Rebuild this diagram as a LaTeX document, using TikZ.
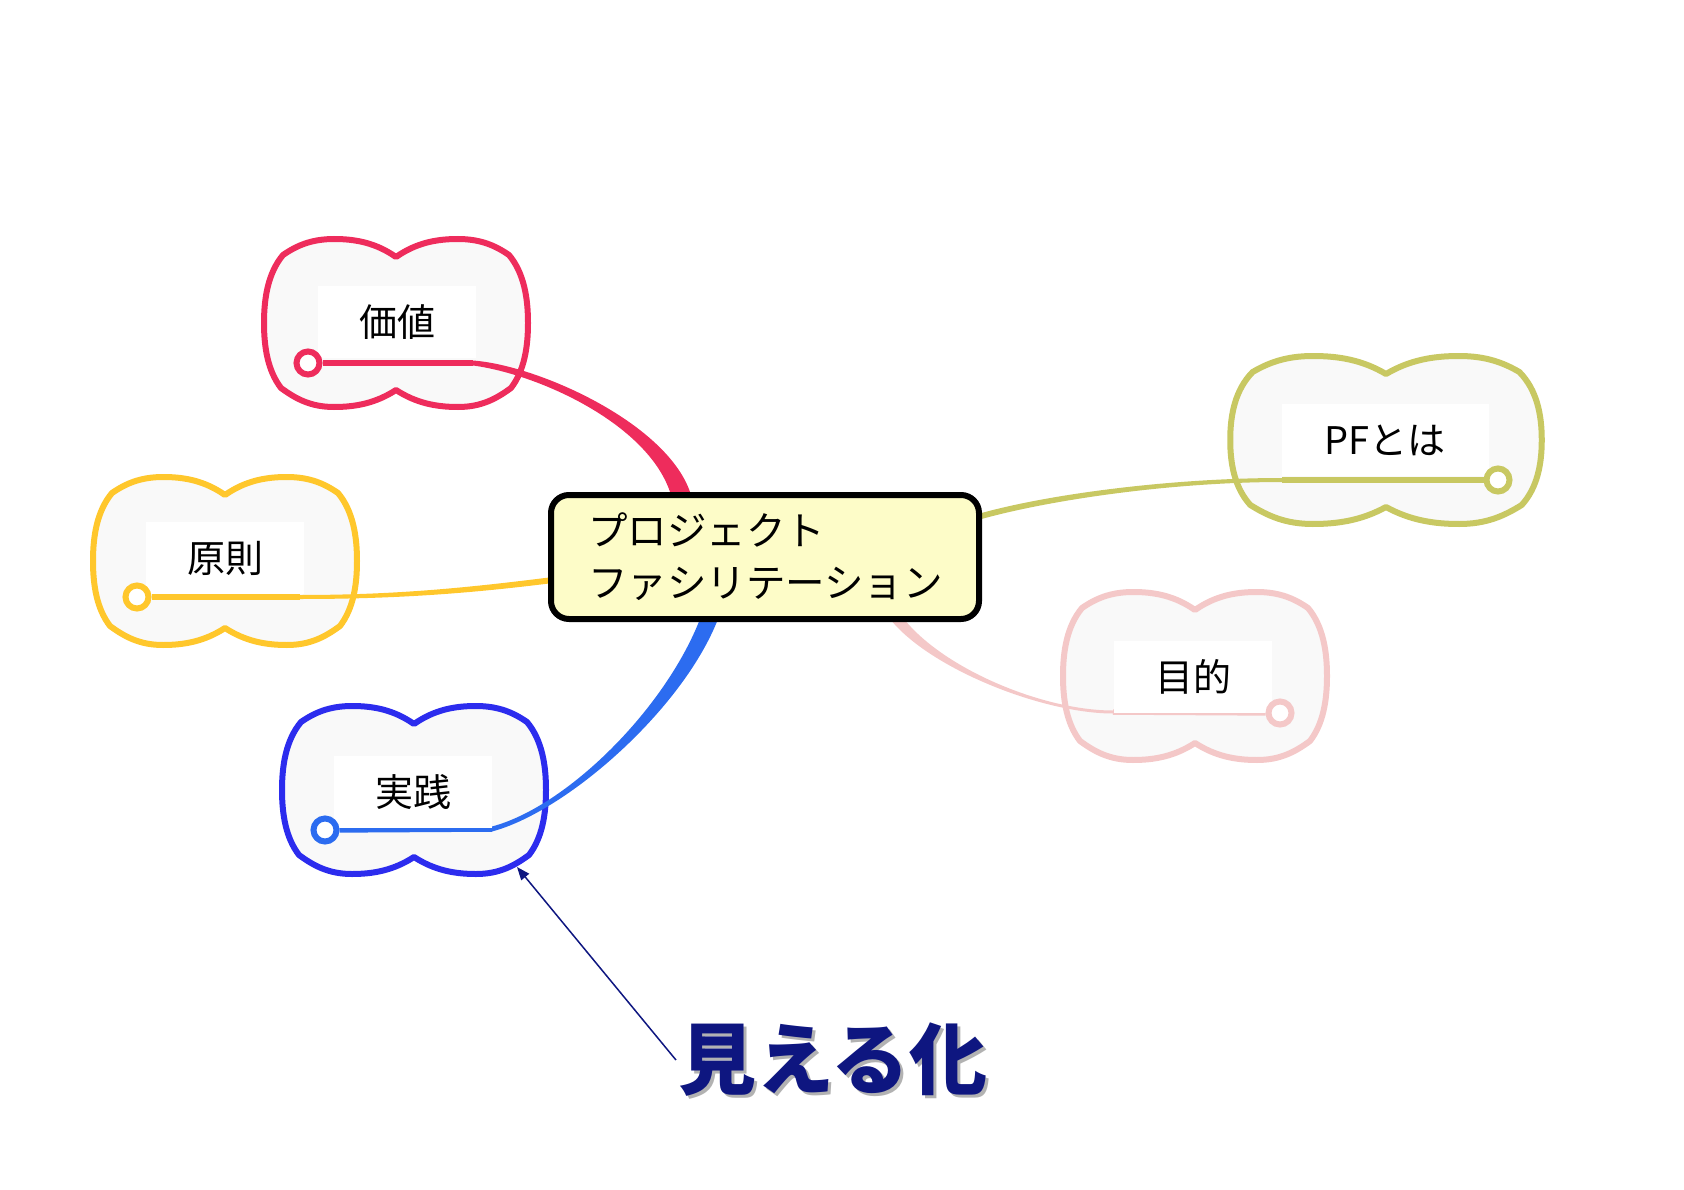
\documentclass[tikz,border=0pt]{standalone}
\usepackage{fontspec}
\newfontfamily\jpfont{Noto Sans CJK JP}
\usetikzlibrary{arrows.meta, positioning, calc, backgrounds}

\definecolor{kachi}{RGB}{238,44,92}
\definecolor{gensoku}{RGB}{255,199,44}
\definecolor{jissen}{RGB}{44,44,238}
\definecolor{jissenline}{RGB}{44,108,240}
\definecolor{pftoha}{RGB}{200,200,98}
\definecolor{mokuteki}{RGB}{244,200,200}
\definecolor{hubfill}{RGB}{253,252,200}
\definecolor{mierublue}{RGB}{14,22,128}

\tikzset{
  cloud/.pic={
    \path[pic actions, line width=6pt, fill=gray!5, line join=round]
      (0,-66) .. controls (-20,-80) and (-40,-84) .. (-62,-84)
      .. controls (-85,-84) and (-100,-77) .. (-113,-68)
      .. controls (-128,-50) and (-132,-25) .. (-132,0)
      .. controls (-132,25) and (-128,48) .. (-115,65)
      .. controls (-100,76) and (-85,84) .. (-62,84)
      .. controls (-40,84) and (-20,80) .. (0,67)
      .. controls (20,80) and (40,84) .. (62,84)
      .. controls (85,84) and (100,76) .. (115,65)
      .. controls (128,48) and (132,25) .. (132,0)
      .. controls (132,-25) and (128,-50) .. (113,-68)
      .. controls (100,-77) and (85,-84) .. (62,-84)
      .. controls (40,-84) and (20,-80) .. (0,-66) -- cycle;
    \coordinate (-tip) at (103,77);
  }
}

\begin{document}
\begin{tikzpicture}[
    x=1pt, y=-1pt,
    hub/.style={draw=black, fill=hubfill, line width=6pt, rounded corners=18pt,
      minimum width=428pt, minimum height=124pt, text width=354pt, align=left,
      font=\jpfont\fontsize{39.5}{52}\selectfont},
    tagbox/.style={fill=white, minimum width=158pt, minimum height=72pt, inner sep=0pt,
      font=\jpfont\fontsize{38}{44}\selectfont},
    knob/.style={circle, draw=#1, fill=white, line width=6pt, minimum size=23pt, inner sep=0pt},
    stub/.style={line width=5.5pt},
    bigword/.style={inner sep=2pt, font=\jpfont\bfseries\fontsize{78}{80}\selectfont}
  ]
  \useasboundingbox (0,0) rectangle (1684,1190);

  % center
  \node[hub] (pj) at (765,557) {プロジェクト\\ファシリテーション};

  % labels
  \node[tagbox] (kachi) at (397,322) {価値};
  \node[tagbox] (gensoku) at (225,558) {原則};
  \node[tagbox] (jissen) at (413,792) {実践};
  \node[tagbox, minimum width=207pt] (pf) at (1385,440) {PFとは};
  \node[tagbox] (mokuteki) at (1193,677) {目的};

  % knobs
  \node[knob=kachi] (kachi knob) at (308,363) {};
  \node[knob=gensoku] (gensoku knob) at (137,597) {};
  \node[knob=jissenline] (jissen knob) at (325,830) {};
  \node[knob=pftoha] (pf knob) at (1498,480) {};
  \node[knob=mokuteki] (mokuteki knob) at (1280,713) {};

  \coordinate (kachi bend) at (473,363);
  \coordinate (gensoku bend) at (300,597);
  \coordinate (jissen bend) at (492,829);
  \coordinate (pf bend) at (1282,480);
  \coordinate (mokuteki bend) at (1113,712);

  \coordinate (kachi end) at ($(pj.north)+(-84,3)$);
  \coordinate (gensoku end) at ($(pj.west)+(5,23)$);
  \coordinate (jissen end) at ($(pj.south)+(-56,-3)$);
  \coordinate (pf end) at ($(pj.east)+(-4,-40)$);
  \coordinate (mokuteki end) at ($(pj.south)+(132,-3)$);

  \begin{pgfonlayer}{background}
    % clouds
    \pic[draw=kachi] (kachicloud) at (396,323) {cloud};
    \pic[draw=gensoku] (gensokucloud) at (225,561) {cloud};
    \pic[draw=jissen] (jissencloud) at (414,790) {cloud};
    \pic[draw=pftoha, xscale=1.18] (pfcloud) at (1386,440) {cloud};
    \pic[draw=mokuteki] (mokutekicloud) at (1195,676) {cloud};

    % branches
    \fill[kachi] ($(kachi bend)+(0,-2.5)$) .. controls +(67,5) and +(-21,-70) .. ($(kachi end)+(10,0)$)
      -- ($(kachi end)+(-10,0)$) .. controls +(-21,-70) and +(67,9) .. ($(kachi bend)+(0,2.5)$) -- cycle;
    \fill[gensoku] ($(gensoku bend)+(0,-2)$) .. controls +(100,0) and +(-80,10) .. ($(gensoku end)+(0,-3)$)
      -- ($(gensoku end)+(0,3)$) .. controls +(-80,10) and +(100,0) .. ($(gensoku bend)+(0,2)$) -- cycle;
    \fill[jissenline] ($(jissen bend)+(0,-2.5)$) .. controls +(75,-20) and +(-35,90) .. ($(jissen end)+(-9,0)$)
      -- ($(jissen end)+(9,0)$) .. controls +(-35,90) and +(75,-20) .. ($(jissen bend)+(0,2.5)$) -- cycle;
    \fill[pftoha] ($(pf bend)+(0,-2)$) .. controls +(-110,0) and +(70,-20) .. ($(pf end)+(0,-3)$)
      -- ($(pf end)+(0,3)$) .. controls +(70,-20) and +(-110,0) .. ($(pf bend)+(0,2)$) -- cycle;
    \fill[mokuteki] ($(mokuteki bend)+(0,-1.5)$) .. controls +(-70,0) and +(40,50) .. ($(mokuteki end)+(7,0)$)
      -- ($(mokuteki end)+(-7,0)$) .. controls +(40,50) and +(-70,0) .. ($(mokuteki bend)+(0,1.5)$) -- cycle;

    % stubs
    \draw[stub, kachi] (kachi knob) -- (kachi bend);
    \draw[stub, gensoku] (gensoku knob) -- (gensoku bend);
    \draw[stub, jissenline] (jissen knob) -- (jissen bend);
    \draw[stub, pftoha] (pf knob) -- (pf bend);
    \draw[stub, mokuteki] (mokuteki knob) -- (mokuteki bend);
  \end{pgfonlayer}

  % caption
  \node[bigword, text=black!30] (mieru shadow) at (836,1063) {見える化};
  \node[bigword, text=mierublue] (mieru) at (833,1060) {見える化};
  \draw[mierublue, line width=1.5pt, -{Triangle[length=13pt, width=10pt]}] (mieru.west) -- (jissencloud-tip);
\end{tikzpicture}
\end{document}
